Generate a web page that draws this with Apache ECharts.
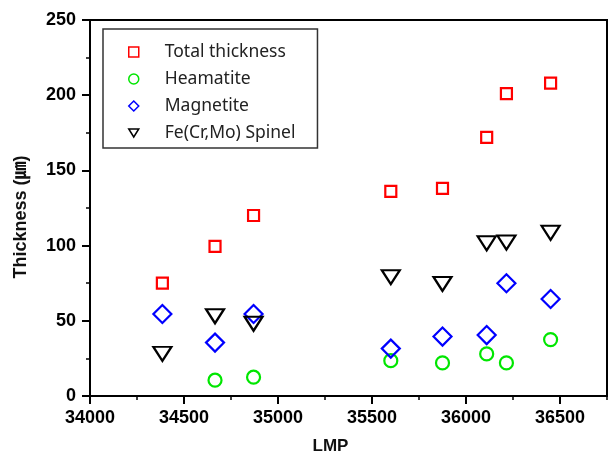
<!DOCTYPE html>
<html>
<head>
<meta charset="utf-8">
<script src="https://cdn.jsdelivr.net/npm/echarts@6/dist/echarts.min.js"></script>
<style>
  html, body { margin: 0; padding: 0; background: #fff; }
  #chart { width: 609px; height: 456px; }
</style>
</head>
<body>
<div id="chart"></div>
<script>
// LMP values (x) shared by all series
const lmp = [34385, 34665, 34870, 35600, 35875, 36110, 36215, 36450]
const totalThickness = [75, 99.5, 120, 136, 138, 172, 201, 208]
const heamatite = [null, 10.5, 12.5, 23.5, 22, 28, 22, 37.5]
const magnetite = [54.5, 35.5, 54.5, 31.5, 39.5, 40.5, 75, 64.5]
const spinel = [28, 53, 48, 79, 74.5, 101.5, 102, 108.5]

const seriesNames = ['Total thickness', 'Heamatite', 'Magnetite', 'Fe(Cr,Mo) Spinel']

const pairs = ys => lmp.map((x, i) => [x, ys[i]]).filter(p => p[1] !== null)

const labelFont = 'Liberation Sans'

const chart = echarts.init(document.getElementById('chart'))

const hollow = (color, w) => ({ color: 'rgba(0,0,0,0)', borderColor: color, borderWidth: w, opacity: 1 })

chart.setOption({
  animation: false,
  backgroundColor: '#fff',
  grid: {
    left: 90,
    right: 2,
    top: 20,
    bottom: 60,
    outerBoundsMode: 'none',
    containLabel: false,
    show: true,
    borderColor: '#000',
    borderWidth: 2
  },
  legend: {
    orient: 'vertical',
    left: 103,
    top: 29,
    padding: [13, 22, 5, 25],
    itemGap: 7,
    itemWidth: 10,
    itemHeight: 10,
    borderColor: '#333',
    borderWidth: 1.5,
    backgroundColor: '#fff',
    itemStyle: { borderWidth: 1.5, opacity: 1 },
    textStyle: {
      fontFamily: 'Noto Sans',
      fontSize: 17.5,
      lineHeight: 20,
      color: '#222',
      padding: [0, 0, 0, 21]
    },
    data: [
      { name: seriesNames[0] },
      { name: seriesNames[1] },
      { name: seriesNames[2] },
      // downward triangle for the legend
      { name: seriesNames[3], icon: 'path://M0,0 L10,0 L5,8 Z' }
    ]
  },
  xAxis: [{
    type: 'value',
    min: 34000,
    max: 36750,
    interval: 500,
    name: 'LMP',
    nameLocation: 'middle',
    nameGap: 42,
    nameTextStyle: {
      fontFamily: labelFont,
      fontWeight: 'bold',
      fontSize: 17,
      color: '#111',
      padding: [0, 36, 0, 0]
    },
    axisLine: { show: true, lineStyle: { color: '#000', width: 2 } },
    axisTick: { show: true, length: 8, lineStyle: { color: '#000', width: 2 } },
    axisLabel: {
      showMaxLabel: false,
      margin: 13,
      formatter: v => String(v),
      fontFamily: labelFont,
      fontWeight: 'bold',
      fontSize: 18,
      color: '#000'
    },
    splitLine: { show: false }
  }, {
    // second axis only for the short ticks every 250
    type: 'value',
    position: 'bottom',
    min: 34000,
    max: 36750,
    interval: 250,
    axisLine: { show: false },
    axisTick: { show: true, length: 4, lineStyle: { color: '#000', width: 1.5 } },
    axisLabel: { show: false },
    splitLine: { show: false }
  }],
  yAxis: {
    type: 'value',
    min: 0,
    max: 250,
    interval: 50,
    name: 'Thickness (㎛)',
    nameLocation: 'middle',
    nameGap: 60,
    nameTextStyle: {
      fontFamily: 'Liberation Sans, Noto Sans CJK KR',
      fontWeight: 'bold',
      fontSize: 18,
      color: '#111',
      padding: [0, 18, 0, 0]
    },
    axisLine: { show: true, lineStyle: { color: '#000', width: 2 } },
    axisTick: { show: true, length: 8, lineStyle: { color: '#000', width: 2 } },
    minorTick: { show: true, splitNumber: 2, length: 4, lineStyle: { color: '#000', width: 1.5 } },
    axisLabel: {
      margin: 14,
      fontFamily: labelFont,
      fontWeight: 'bold',
      fontSize: 18,
      color: '#000'
    },
    splitLine: { show: false }
  },
  series: [
    {
      name: seriesNames[0],
      type: 'scatter',
      symbol: 'rect',
      symbolSize: 11,
      itemStyle: hollow('#ff0000', 2.2),
      data: pairs(totalThickness)
    },
    {
      name: seriesNames[1],
      type: 'scatter',
      symbol: 'circle',
      symbolSize: 13,
      itemStyle: hollow('#00e600', 2.2),
      data: pairs(heamatite)
    },
    {
      name: seriesNames[2],
      type: 'scatter',
      symbol: 'diamond',
      symbolSize: 18,
      itemStyle: hollow('#0000ff', 2.2),
      data: pairs(magnetite)
    },
    {
      name: seriesNames[3],
      type: 'scatter',
      symbol: 'triangle',
      symbolRotate: 180,
      symbolSize: [18, 14],
      itemStyle: hollow('#000000', 2.2),
      data: pairs(spinel)
    }
  ]
})
</script>
</body>
</html>
